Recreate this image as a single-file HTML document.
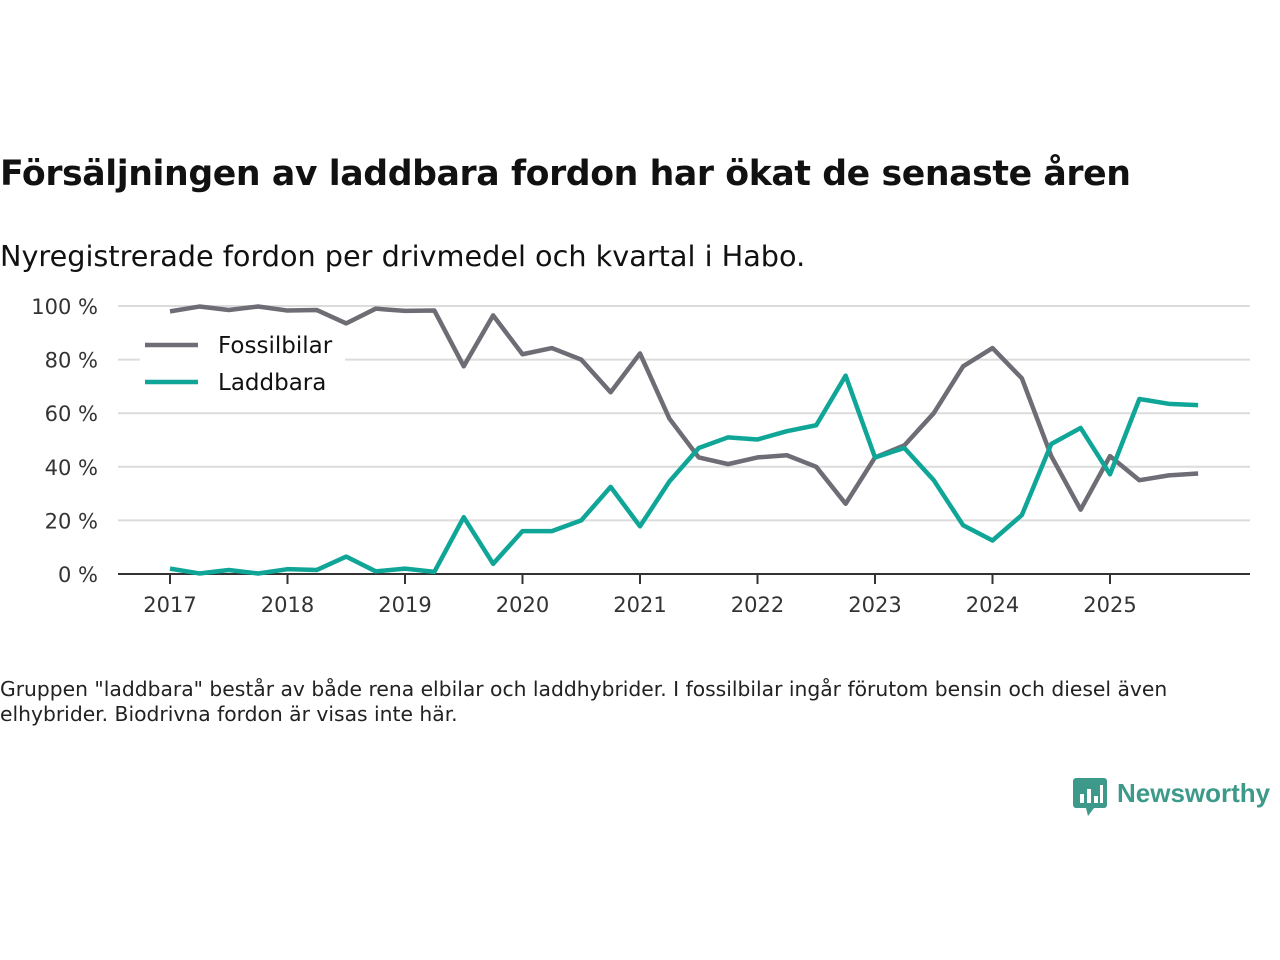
<!DOCTYPE html>
<html><head><meta charset="utf-8"><style>
body{margin:0;background:#fff;width:1280px;height:960px;overflow:hidden;font-family:"DejaVu Sans","Liberation Sans",sans-serif;color:#111;}
#title{position:absolute;left:0;top:154px;font-size:34.7px;font-weight:bold;letter-spacing:-0.4px;white-space:nowrap;}
#sub{position:absolute;left:0;top:239px;font-size:28.7px;white-space:nowrap;}
#note{position:absolute;left:0;top:677px;font-size:20.3px;line-height:25px;width:1240px;color:#222;}
#logo{position:absolute;left:1072px;top:776px;}
</style></head><body>
<div id="title">Försäljningen av laddbara fordon har ökat de senaste åren</div>
<div id="sub">Nyregistrerade fordon per drivmedel och kvartal i Habo.</div>
<svg id="chart" width="1280" height="960" style="position:absolute;left:0;top:0"></svg>
<div id="note">Gruppen "laddbara" består av både rena elbilar och laddhybrider. I fossilbilar ingår förutom bensin och diesel även elhybrider. Biodrivna fordon är visas inte här.</div>
<div id="logo">
<svg width="210" height="44"><rect x="1" y="2" width="34" height="30" rx="3" fill="#3d9a8b"/><polygon points="14,32 22,32 16,40" fill="#3d9a8b"/>
<rect x="8" y="18" width="4" height="9" fill="#fff"/><rect x="15" y="13" width="4" height="14" fill="#fff"/><rect x="22" y="20" width="4" height="7" fill="#fff"/><rect x="28" y="9" width="3" height="18" fill="#fff"/>
<text x="45" y="26" font-size="26" font-weight="bold" fill="#3d9a8b" font-family="Liberation Sans, sans-serif">Newsworthy</text></svg></div>
<script>
const years=["2017","2018","2019","2020","2021","2022","2023","2024","2025"];
const yTicks=[0,20,40,60,80,100];
const fossil=[98,99.8,98.5,99.8,98.3,98.5,93.5,99,98.2,98.3,77.5,96.5,82,84.3,80,67.8,82.3,58,43.5,41,43.5,44.3,40,26.2,43.5,48,60,77.5,84.3,73,44,24,44,35,36.8,37.5];
const laddbara=[2,0.2,1.5,0.2,1.8,1.5,6.5,1,2,0.8,21.2,3.8,16,16,20,32.5,17.8,34.5,47,51,50.2,53.3,55.5,74,43.5,47,35,18.2,12.5,22,48.5,54.5,37.2,65.3,63.5,63];
const NS="http://www.w3.org/2000/svg";
const svg=document.getElementById('chart');
const x=i=>170+i*(1110-170)/32;
const y=v=>574-v*2.68;
function mk(t,a,p){const e=document.createElementNS(NS,t);for(const k in a)e.setAttribute(k,a[k]);(p||svg).appendChild(e);return e;}
yTicks.forEach(v=>{
 if(v>0){const g=mk('line',{x1:118,x2:1250,y1:y(v),y2:y(v),stroke:'#dcdcdc','stroke-width':2});
 
 }
 const t=mk('text',{x:98,y:y(v)+8,'text-anchor':'end','font-size':21,fill:'#333'});t.textContent=v+' %';
 
 
});
const ax=mk('line',{x1:118,x2:1250,y1:574,y2:574,stroke:'#333','stroke-width':2});


years.forEach((yr,i)=>{
 mk('line',{x1:x(i*4),x2:x(i*4),y1:574,y2:584,stroke:'#333','stroke-width':2});
 const t=mk('text',{x:x(i*4),y:612,'text-anchor':'middle','font-size':21,fill:'#333'});t.textContent=yr;
 
 
});
function line(d,c,n){const p=mk('polyline',{points:d.map((v,i)=>x(i)+','+y(v)).join(' '),fill:'none',stroke:c,'stroke-width':4.5,'stroke-linejoin':'round'});
 
 }
line(fossil,'#6e6c74','fossilbilar-line');
line(laddbara,'#0fa698','laddbara-line');
const lg=mk('rect',{x:140,y:328,width:205,height:70,fill:'#fff'});


[['Fossilbilar','#6e6c74',345],['Laddbara','#0fa698',382]].forEach(([n,c,yy])=>{
 mk('line',{x1:145,x2:198,y1:yy,y2:yy,stroke:c,'stroke-width':4.5});
 const t=mk('text',{x:218,y:yy+8,'font-size':23,fill:'#111'});t.textContent=n;
 
 
});
</script>
</body></html>
